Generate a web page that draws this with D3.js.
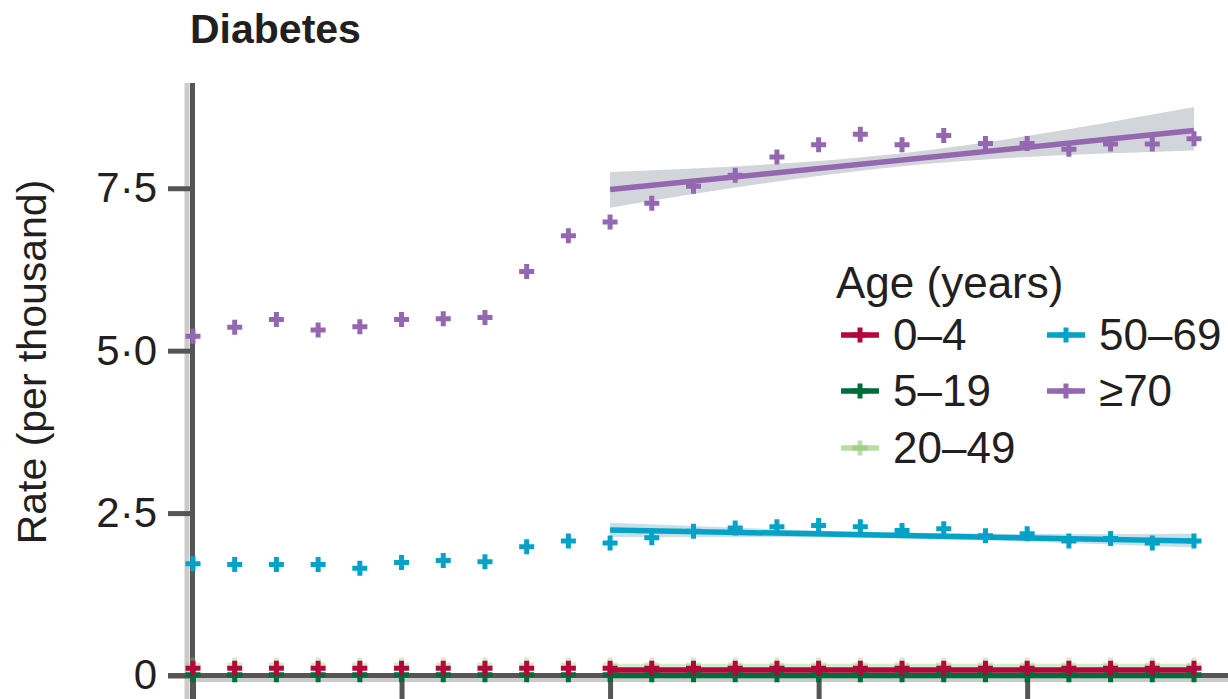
<!DOCTYPE html>
<html>
<head>
<meta charset="utf-8">
<script src="https://cdn.jsdelivr.net/npm/d3@7"></script>
<style>
  html, body { margin: 0; padding: 0; background: #ffffff; }
  svg { display: block; }
  text { font-family: "Liberation Sans", Arial, sans-serif; fill: #231f20; }
</style>
</head>
<body>
<svg id="chart" width="1228" height="699"></svg>
<script>
// Yearly diabetes rate per thousand, by age group
const years = [1993, 1994, 1995, 1996, 1997, 1998, 1999, 2000, 2001, 2002,
               2003, 2004, 2005, 2006, 2007, 2008, 2009, 2010, 2011, 2012,
               2013, 2014, 2015, 2016, 2017];
const xTickYears = [1993, 1998, 2003, 2008, 2013];
const yTicks = [0, 2.5, 5, 7.5];
const yTickLabels = ["0", "2·5", "5·0", "7·5"];

const ageGroups = ["0–4", "5–19", "20–49", "50–69", "≥70"];
const groupColors = ["#b3063b", "#006b3b", "#8cc66a", "#05a2c7", "#9468b0"];

const rate0to4   = [0.11, 0.11, 0.11, 0.11, 0.11, 0.11, 0.11, 0.11, 0.11, 0.11,
                    0.11, 0.11, 0.11, 0.11, 0.11, 0.11, 0.11, 0.11, 0.11, 0.11,
                    0.11, 0.11, 0.11, 0.11, 0.11];
const rate5to19  = [0.01, 0.01, 0.01, 0.01, 0.01, 0.01, 0.01, 0.01, 0.01, 0.01,
                    0.01, 0.01, 0.01, 0.01, 0.01, 0.01, 0.01, 0.01, 0.01, 0.01,
                    0.01, 0.01, 0.01, 0.01, 0.01];
const rate20to49 = [0.16, 0.16, 0.16, 0.16, 0.16, 0.16, 0.16, 0.16, 0.16, 0.16,
                    0.16, 0.16, 0.16, 0.16, 0.16, 0.16, 0.16, 0.16, 0.16, 0.16,
                    0.16, 0.16, 0.16, 0.16, 0.16];
const rate50to69 = [1.72, 1.71, 1.71, 1.71, 1.65, 1.74, 1.77, 1.75, 1.98, 2.07,
                    2.04, 2.12, 2.22, 2.27, 2.29, 2.31, 2.29, 2.23, 2.26, 2.15,
                    2.18, 2.07, 2.11, 2.04, 2.07];
const rate70plus = [5.22, 5.36, 5.48, 5.32, 5.37, 5.48, 5.49, 5.51, 6.22, 6.77,
                    6.98, 7.27, 7.53, 7.70, 7.98, 8.17, 8.33, 8.17, 8.31, 8.19,
                    8.19, 8.10, 8.18, 8.18, 8.26];

// Linear trends over the second period, with confidence limits
const trendYears = [2003, 2017];
const ciYears = [2003, 2010, 2017];
const trend0to4   = [0.085, 0.085];
const trend5to19  = [0.0, 0.0];
const trend20to49 = [0.14, 0.14];
const trend50to69 = [2.24, 2.07];
const ci50to69Low  = [2.13, 2.11, 1.97];
const ci50to69High = [2.35, 2.20, 2.18];
const trend70plus = [7.48, 8.39];
const ci70plusLow  = [7.20, 7.84, 8.08];
const ci70plusHigh = [7.75, 8.04, 8.75];

const svg = d3.select("#chart");

const x = d3.scaleLinear().domain([1993, 2017]).range([193, 1194]);
const y = d3.scaleLinear().domain([0, 9.12]).range([675.5, 83]);

const axisDark = "#565454";
const axisLight = "#cbcbcb";

// Title
svg.append("text")
  .attr("x", 190).attr("y", 43)
  .attr("font-size", 41).attr("font-weight", "bold")
  .text("Diabetes");

// Y-axis title
svg.append("text")
  .attr("transform", "translate(46,362) rotate(-90)")
  .attr("text-anchor", "middle")
  .attr("font-size", 41)
  .text("Rate (per thousand)");

// Axis lines with their soft edge
const axes = svg.append("g");
axes.append("line").attr("x1", 187).attr("x2", 187).attr("y1", 83).attr("y2", 699)
  .attr("stroke", axisLight).attr("stroke-width", 5);
axes.append("line").attr("x1", 186).attr("x2", 1228).attr("y1", 680).attr("y2", 680)
  .attr("stroke", axisLight).attr("stroke-width", 4);
axes.append("line").attr("x1", 192.5).attr("x2", 192.5).attr("y1", 83).attr("y2", 699)
  .attr("stroke", axisDark).attr("stroke-width", 5);
axes.append("line").attr("x1", 168).attr("x2", 1228).attr("y1", y(0)).attr("y2", y(0))
  .attr("stroke", axisDark).attr("stroke-width", 5);

// Y axis ticks and labels
const yAxis = d3.axisLeft(y)
  .tickValues(yTicks)
  .tickSize(24)
  .tickPadding(11)
  .tickFormat((d, i) => yTickLabels[i]);
const gy = svg.append("g").attr("transform", "translate(192,0)").call(yAxis);
gy.select(".domain").remove();
gy.selectAll(".tick line").attr("stroke", axisDark).attr("stroke-width", 5);
gy.selectAll(".tick text")
  .attr("font-size", 42)
  .attr("font-family", "Liberation Sans, Arial, sans-serif")
  .attr("fill", "#231f20");

// X axis ticks (labels fall below the visible area)
const xAxis = d3.axisBottom(x)
  .tickValues(xTickYears)
  .tickSize(30)
  .tickFormat("");
const gx = svg.append("g").attr("transform", `translate(0,${y(0)})`).call(xAxis);
gx.select(".domain").remove();
gx.selectAll(".tick line").attr("stroke", axisDark).attr("stroke-width", 5);

// Confidence bands
const band = d3.area()
  .x(d => x(d.year))
  .y0(d => y(d.lo))
  .y1(d => y(d.hi))
  .curve(d3.curveNatural);

function bandData(lo, hi) {
  return ciYears.map((yr, i) => ({ year: yr, lo: lo[i], hi: hi[i] }));
}
svg.append("path").datum(bandData(ci70plusLow, ci70plusHigh))
  .attr("d", band).attr("fill", "#d2d6db");
svg.append("path").datum(bandData(ci50to69Low, ci50to69High))
  .attr("d", band).attr("fill", "#c9dfe7");

// Trend lines
const line = d3.line().x(d => x(d.year)).y(d => y(d.v));
const trends = [trend20to49, trend5to19, trend0to4, trend50to69, trend70plus];
const trendColors = [groupColors[2], groupColors[1], groupColors[0], groupColors[3], groupColors[4]];
const trendOpacity = [0.35, 1, 1, 1, 1];
trends.forEach((t, k) => {
  svg.append("path")
    .datum(trendYears.map((yr, i) => ({ year: yr, v: t[i] })))
    .attr("d", line)
    .attr("fill", "none")
    .attr("stroke", trendColors[k])
    .attr("stroke-opacity", trendOpacity[k])
    .attr("stroke-width", 5.5);
});

// Yearly points drawn as crosses
const cross = d3.symbol().type(d3.symbolCross).size(125);
const series = [
  { values: rate20to49, color: groupColors[2], opacity: 0.35 },
  { values: rate5to19,  color: groupColors[1], opacity: 1 },
  { values: rate0to4,   color: groupColors[0], opacity: 1 },
  { values: rate50to69, color: groupColors[3], opacity: 1 },
  { values: rate70plus, color: groupColors[4], opacity: 1 }
];
series.forEach(s => {
  svg.append("g").selectAll("path")
    .data(s.values.map((v, i) => ({ year: years[i], v })))
    .join("path")
    .attr("d", cross)
    .attr("transform", d => `translate(${x(d.year)},${y(d.v)})`)
    .attr("fill", s.color)
    .attr("fill-opacity", s.opacity);
});

// Legend
const legend = svg.append("g");
legend.append("text")
  .attr("x", 836).attr("y", 298)
  .attr("font-size", 44)
  .text("Age (years)");

const colX = [860, 1066];
const rowY = [335, 391, 448];
const legendOpacity = [1, 1, 0.6, 1, 1];
ageGroups.forEach((label, i) => {
  const cx = colX[i < 3 ? 0 : 1];
  const cy = rowY[i < 3 ? i : i - 3];
  const g = legend.append("g").attr("transform", `translate(${cx},${cy})`);
  g.append("line").attr("x1", -19).attr("x2", 19).attr("y1", 0).attr("y2", 0)
    .attr("stroke", groupColors[i]).attr("stroke-width", 5.5)
    .attr("stroke-opacity", legendOpacity[i]);
  g.append("path").attr("d", cross).attr("fill", groupColors[i])
    .attr("fill-opacity", legendOpacity[i]);
  g.append("text")
    .attr("x", 33).attr("y", 0)
    .attr("dy", "0.35em")
    .attr("font-size", 44)
    .text(label);
});
</script>
</body>
</html>
